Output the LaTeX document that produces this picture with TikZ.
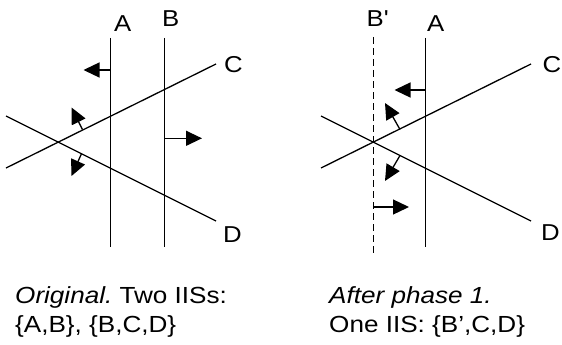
\documentclass[tikz,border=0pt]{standalone}
\usepackage{graphicx}
\usepackage{fontspec}
\setmainfont{Liberation Sans}
\usetikzlibrary{arrows.meta}
\frenchspacing
\newcommand{\wide}[1]{\scalebox{1.12}[1]{#1}}
\tikzset{
  cline/.style={line width=1.3pt},
  dline/.style={line width=1.3pt, dash pattern=on 7pt off 4pt},
  normarrow/.style={line width=1.3pt, -{Triangle[length=16pt,width=15pt]}},
  lbl/.style={anchor=base west, inner sep=0pt, font=\fontsize{23}{27}\selectfont},
  captxt/.style={anchor=base west, inner sep=0pt, font=\fontsize{23.3}{28}\selectfont\frenchspacing},
}
\begin{document}
\begin{tikzpicture}[x=1pt,y=-1pt]
\useasboundingbox (0,0) rectangle (562,345);
% ---------- left panel ----------
\coordinate (LA1) at (110.5,38);  \coordinate (LA2) at (110.5,247);
\coordinate (LB1) at (164.5,38);  \coordinate (LB2) at (164.5,247);
\coordinate (LC1) at (6,168);     \coordinate (LC2) at (216,64);
\coordinate (LD1) at (6,116);     \coordinate (LD2) at (216,221);
\draw[cline] (LA1) -- (LA2);
\draw[cline] (LB1) -- (LB2);
\draw[cline] (LC1) -- (LC2);
\draw[cline] (LD1) -- (LD2);
\node[lbl] (lA) at (114,32) {\wide{A}};
\node[lbl] (lB) at (162,27) {\wide{B}};
\node[lbl] (lC) at (223.8,72) {\wide{C}};
\node[lbl] (lD) at (223,242) {\wide{D}};
\coordinate (aA0) at (110.5,70);  \coordinate (aA1) at (83.5,70);
\coordinate (aB0) at (164.5,138.3); \coordinate (aB1) at (202,138.3);
\coordinate (aC0) at (82.5,129.6);\coordinate (aC1) at (71.5,107.5);
\coordinate (aD0) at (81.5,153.7);\coordinate (aD1) at (71.5,176);
\draw[normarrow] (aA0) -- (aA1);
\draw[normarrow] (aB0) -- (aB1);
\draw[normarrow] (aC0) -- (aC1);
\draw[normarrow] (aD0) -- (aD1);
% ---------- right panel ----------
\coordinate (RB1) at (373.5,37);  \coordinate (RB2) at (373.5,255);
\coordinate (RA1) at (425.5,38);  \coordinate (RA2) at (425.5,247);
\coordinate (RC1) at (321,168);   \coordinate (RC2) at (531,64);
\coordinate (RD1) at (321,116);   \coordinate (RD2) at (531,221);
\draw[dline] (RB1) -- (RB2);
\draw[cline] (RA1) -- (RA2);
\draw[cline] (RC1) -- (RC2);
\draw[cline] (RD1) -- (RD2);
\node[lbl] (rB) at (366.5,27) {\wide{B\textquotesingle}};
\node[lbl] (rA) at (427,32) {\wide{A}};
\node[lbl] (rC) at (542.5,72) {\wide{C}};
\node[lbl] (rD) at (541,240.5) {\wide{D}};
\coordinate (bA0) at (425.5,90);  \coordinate (bA1) at (394.5,90);
\coordinate (bC0) at (400,129.5); \coordinate (bC1) at (385,103);
\coordinate (bD0) at (400,155.5); \coordinate (bD1) at (385,181);
\coordinate (bB0) at (373.5,207); \coordinate (bB1) at (409,207);
\draw[normarrow] (bA0) -- (bA1);
\draw[normarrow] (bC0) -- (bC1);
\draw[normarrow] (bD0) -- (bD1);
\draw[normarrow] (bB0) -- (bB1);
% ---------- captions ----------
\node[captxt] (c1) at (15,303) {\wide{{\itshape Original.} Two IISs:}};
\node[captxt] (c2) at (15,332) {\wide{\{A,B\}, \{B,C,D\}}};
\node[captxt] (c3) at (329,303) {\wide{{\itshape After phase 1.}}};
\node[captxt] (c4) at (329,332) {\wide{One IIS: \{B’,C,D\}}};
\end{tikzpicture}
\end{document}
